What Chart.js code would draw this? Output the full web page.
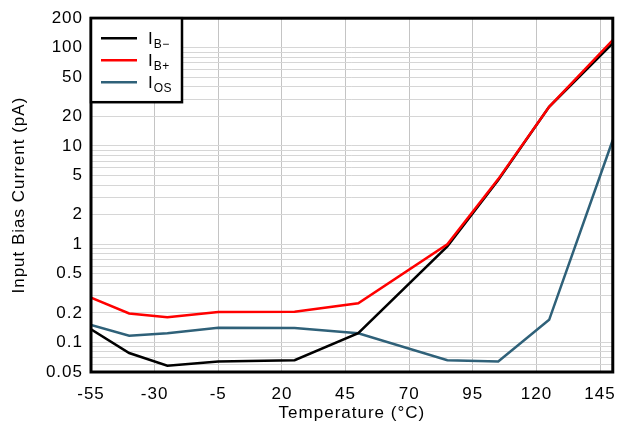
<!DOCTYPE html>
<html>
<head>
<meta charset="utf-8">
<script src="https://cdn.jsdelivr.net/npm/chart.js@4/dist/chart.umd.min.js"></script>
<style>
html,body{margin:0;padding:0;background:#fff;}
#wrap{width:628px;height:430px;position:relative;}
</style>
</head>
<body>
<div id="wrap"><canvas id="c" width="628" height="430"></canvas></div>
<script>
// ---- data ----
const temperatures = [-55, -40, -25, -5, 25, 50, 85, 105, 125, 150];
const ibMinus = [0.136, 0.078, 0.058, 0.064, 0.066, 0.124, 0.95, 4.5, 25, 111];
const ibPlus  = [0.285, 0.197, 0.180, 0.204, 0.205, 0.250, 1.0, 4.6, 25, 120];
const iOs     = [0.151, 0.117, 0.124, 0.141, 0.140, 0.124, 0.066, 0.064, 0.170, 11.5];
const seriesNames = ['B\u2212', 'B+', 'OS'];
const seriesColors = ['#000000', '#ff0000', '#2f6179'];
const xTickValues = [-55, -30, -5, 20, 45, 70, 95, 120, 145];
const yTickLabels = ['0.05', '0.1', '0.2', '0.5', '1', '2', '5', '10', '20', '50', '100', '200'];
const xTitle = 'Temperature (\u00B0C)';
const yTitle = 'Input Bias Current (pA)';

const yLabelNums = yTickLabels.map(Number);
// log minor grid values: 1..9 x 10^n within range
const yGrid = [];
for (let e = -2; e <= 2; e++) {
  for (let m = 1; m <= 9; m++) {
    const v = Number((m * Math.pow(10, e)).toPrecision(6));
    if (v >= 0.05 - 1e-9 && v <= 200 + 1e-9) yGrid.push(v);
  }
}
function labelFor(v) {
  for (let i = 0; i < yLabelNums.length; i++) {
    if (Math.abs(v - yLabelNums[i]) / yLabelNums[i] < 1e-6) return yTickLabels[i];
  }
  return '';
}

const FONT = "'Liberation Sans', Arial, sans-serif";
const SPACING = '1px';

const spacingPlugin = {
  id: 'spacing',
  beforeLayout(chart) { chart.ctx.letterSpacing = SPACING; },
  beforeDraw(chart) { chart.ctx.letterSpacing = SPACING; }
};

const frameAndLegend = {
  id: 'frameAndLegend',
  afterDatasetsDraw(chart) {
    const ctx = chart.ctx;
    const a = chart.chartArea;
    ctx.save();
    // frame
    ctx.strokeStyle = '#000';
    ctx.lineWidth = 3;
    ctx.strokeRect(a.left, a.top, a.right - a.left, a.bottom - a.top);
    // legend box
    const lx = a.left, ly = a.top, lw = 91, lh = 84;
    ctx.fillStyle = '#fff';
    ctx.fillRect(lx, ly, lw, lh);
    ctx.lineWidth = 2.5;
    ctx.strokeRect(lx, ly, lw, lh);
    for (let i = 0; i < seriesNames.length; i++) {
      const yy = ly + 20 + i * 22;
      ctx.strokeStyle = seriesColors[i];
      ctx.lineWidth = 2.5;
      ctx.beginPath();
      ctx.moveTo(lx + 10, yy);
      ctx.lineTo(lx + 46, yy);
      ctx.stroke();
      ctx.fillStyle = '#000';
      ctx.textAlign = 'left';
      ctx.textBaseline = 'alphabetic';
      ctx.letterSpacing = SPACING;
      ctx.font = '17px ' + FONT;
      ctx.fillText('I', lx + 57, yy + 6);
      const w = ctx.measureText('I').width;
      ctx.font = '12px ' + FONT;
      ctx.letterSpacing = '0.5px';
      ctx.fillText(seriesNames[i], lx + 57 + w, yy + 9.5);
    }
    ctx.restore();
  }
};

const datasets = [
  { label: 'IB-', data: ibMinus, borderColor: seriesColors[0], order: 1 },
  { label: 'IB+', data: ibPlus, borderColor: seriesColors[1], order: 0 },
  { label: 'IOS', data: iOs, borderColor: seriesColors[2], order: 2 }
].map(d => ({
  label: d.label,
  data: temperatures.map((t, i) => ({ x: t, y: d.data[i] })),
  borderColor: d.borderColor,
  backgroundColor: d.borderColor,
  borderWidth: 2.5,
  pointRadius: 0,
  tension: 0,
  fill: false,
  order: d.order
}));

new Chart(document.getElementById('c'), {
  type: 'line',
  data: { datasets },
  plugins: [spacingPlugin, frameAndLegend],
  options: {
    responsive: false,
    animation: false,
    layout: { padding: { top: 13, right: 11, left: 0, bottom: 0 } },
    plugins: { legend: { display: false }, tooltip: { enabled: false } },
    scales: {
      x: {
        type: 'linear',
        min: -55,
        max: 150,
        afterBuildTicks: s => { s.ticks = xTickValues.map(v => ({ value: v })); },
        afterFit: s => { s.height = 58; },
        ticks: {
          autoSkip: false,
          maxRotation: 0,
          padding: 12,
          color: '#000',
          font: { family: FONT, size: 17 },
          callback: v => String(v)
        },
        grid: { color: '#c4c4c4', lineWidth: 1, drawTicks: false },
        border: { display: false },
        title: {
          display: true,
          text: xTitle,
          color: '#000',
          font: { family: FONT, size: 17 },
          padding: { top: 0, bottom: 6 }
        }
      },
      y: {
        type: 'logarithmic',
        min: 0.05,
        max: 200,
        afterBuildTicks: s => { s.ticks = yGrid.map(v => ({ value: v })); },
        afterFit: s => { s.width = 91; },
        ticks: {
          autoSkip: false,
          padding: 8,
          color: '#000',
          font: { family: FONT, size: 17 },
          callback: v => labelFor(v)
        },
        grid: { color: '#d6d6d6', lineWidth: 1, drawTicks: false },
        border: { display: false },
        title: {
          display: true,
          text: yTitle,
          color: '#000',
          font: { family: FONT, size: 17 },
          padding: { top: 9, bottom: 0 }
        }
      }
    }
  }
});
</script>
</body>
</html>
